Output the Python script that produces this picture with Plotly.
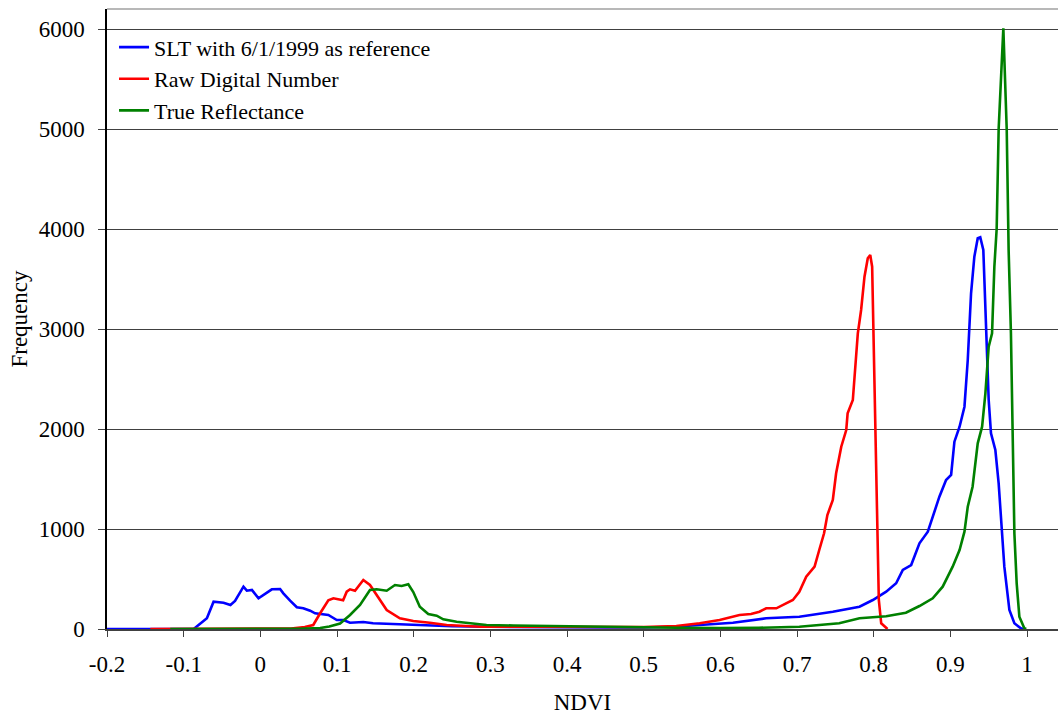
import plotly.graph_objects as go

# ---- data ----
slt_x = [-0.2, -0.15, -0.1, -0.087, -0.0697, -0.061, -0.048, -0.039, -0.033, -0.022, -0.0176, -0.011,
         -0.0024, 0.004, 0.015, 0.0258, 0.030, 0.0388, 0.0476, 0.056, 0.065, 0.0714, 0.080, 0.0887,
         0.0997, 0.1083, 0.117, 0.1343, 0.147, 0.1778, 0.2125, 0.25, 0.3, 0.35, 0.4, 0.45, 0.5, 0.54,
         0.573, 0.6164, 0.6598, 0.703, 0.7467, 0.7815, 0.7989, 0.8163, 0.8293, 0.838, 0.8489, 0.8597,
         0.8706, 0.877, 0.8857, 0.8944, 0.901, 0.9053, 0.912, 0.9184, 0.9227, 0.927, 0.9313, 0.9357,
         0.939, 0.943, 0.9465, 0.95, 0.953, 0.9587, 0.963, 0.966, 0.9704, 0.977, 0.9835, 0.992, 0.995]
slt_y = [0, 0, 0, 0, 107, 273, 263, 240, 280, 423, 383, 390,
         307, 340, 397, 400, 357, 283, 217, 208, 183, 157, 150, 140,
         90, 90, 63, 70, 57, 47, 40, 28, 22, 18, 15, 15, 15, 22,
         40, 63, 107, 123, 173, 223, 290, 373, 457, 590, 640, 857,
         973, 1123, 1323, 1490, 1540, 1873, 2023, 2223, 2690, 3357, 3723, 3907,
         3917, 3790, 2957, 2290, 1957, 1790, 1457, 1123, 623, 190, 57, 7, 0]

raw_x = [-0.1435, -0.1, 0.0, 0.04, 0.058, 0.069, 0.078, 0.0887, 0.0953, 0.108, 0.1127, 0.117, 0.1235,
         0.1343, 0.143, 0.1517, 0.1648, 0.182, 0.1995, 0.221, 0.243, 0.2864, 0.32, 0.36, 0.4, 0.45,
         0.5, 0.5426, 0.573, 0.599, 0.6164, 0.625, 0.640, 0.651, 0.6598, 0.673, 0.6946, 0.703, 0.712,
         0.7229, 0.729, 0.7353, 0.7396, 0.7467, 0.751, 0.7577, 0.7642, 0.766, 0.7728, 0.776, 0.7793,
         0.7836, 0.788, 0.7923, 0.7955, 0.798, 0.7997, 0.8024, 0.8045, 0.8067, 0.8098, 0.8163, 0.818]
raw_y = [0, 0, 2, 5, 20, 40, 157, 287, 307, 287, 373, 397, 383,
         490, 440, 340, 190, 107, 80, 63, 40, 23, 22, 20, 18, 18,
         20, 30, 57, 90, 123, 140, 150, 173, 207, 207, 290, 373, 523,
         623, 790, 957, 1140, 1290, 1557, 1823, 1990, 2157, 2290, 2623, 2957,
         3190, 3523, 3707, 3740, 3623, 2957, 1957, 957, 290, 57, 7, 0]

true_x = [-0.1175, 0.0, 0.05, 0.078, 0.09, 0.104, 0.117, 0.130, 0.143, 0.1517, 0.1648, 0.1756, 0.1843,
          0.193, 0.1995, 0.208, 0.219, 0.230, 0.2386, 0.256, 0.2777, 0.295, 0.33, 0.37, 0.4, 0.45,
          0.5, 0.55, 0.6, 0.65, 0.703, 0.755, 0.7815, 0.8163, 0.842, 0.8597, 0.877, 0.89, 0.903,
          0.912, 0.9184, 0.9227, 0.929, 0.9357, 0.9414, 0.9457, 0.95, 0.9544, 0.9574, 0.9604, 0.963,
          0.9691, 0.9735, 0.976, 0.979, 0.9813, 0.9835, 0.9865, 0.99, 0.9965, 0.999]
true_y = [0, 0, 3, 10, 25, 55, 140, 240, 390, 397, 383, 440, 430,
          447, 370, 223, 150, 133, 97, 72, 55, 40, 35, 30, 28, 22,
          15, 12, 10, 12, 23, 57, 107, 127, 163, 230, 307, 423, 623,
          790, 973, 1223, 1423, 1857, 2023, 2357, 2823, 2957, 3623, 4000, 5000,
          6007, 5000, 3790, 2957, 1957, 957, 457, 123, 7, 0]

series_names = ["SLT with 6/1/1999 as reference", "Raw Digital Number", "True Reflectance"]
series_colors = ["#0000FF", "#FF0000", "#008000"]

x_ticks = [-0.2, -0.1, 0, 0.1, 0.2, 0.3, 0.4, 0.5, 0.6, 0.7, 0.8, 0.9, 1]
x_tick_text = ["-0.2", "-0.1", "0", "0.1", "0.2", "0.3", "0.4", "0.5", "0.6", "0.7", "0.8", "0.9", "1"]
y_ticks = [0, 1000, 2000, 3000, 4000, 5000, 6000]

FONT = "Liberation Serif, Times New Roman, serif"
FS = 23

fig = go.Figure()
for xs, ys, name, col in zip([slt_x, raw_x, true_x], [slt_y, raw_y, true_y], series_names, series_colors):
    fig.add_trace(go.Scatter(x=xs, y=ys, mode="lines", name=name,
                             line=dict(color=col, width=2.6, shape="linear")))

fig.update_layout(
    width=1058, height=715,
    margin=dict(l=107, r=0, t=9, b=86),
    paper_bgcolor="white", plot_bgcolor="white",
    font=dict(family=FONT, size=FS, color="black"),
    showlegend=True,
    legend=dict(x=0.0074, y=0.972, xanchor="left", yanchor="top",
                bgcolor="rgba(0,0,0,0)", borderwidth=0,
                font=dict(family=FONT, size=22, color="black"),
                itemwidth=30, tracegroupgap=0),
)
fig.update_xaxes(
    range=[-0.2, 1.0404], tickmode="array", tickvals=x_ticks, ticktext=x_tick_text,
    showgrid=False, zeroline=False, showline=True, linecolor="#404040", linewidth=1.5,
    ticks="outside", ticklen=6, tickcolor="#404040", tickwidth=1,
    ticklabelstandoff=8,
    title=dict(text="NDVI", font=dict(family=FONT, size=FS), standoff=19),
)
fig.update_yaxes(
    range=[0, 6200], tickmode="array", tickvals=y_ticks,
    showgrid=True, gridcolor="#404040", gridwidth=1,
    zeroline=False, showline=True, linecolor="black", linewidth=1.5,
    ticks="outside", ticklen=7, tickcolor="#404040", tickwidth=1,
    ticklabelstandoff=9,
    title=dict(text="Frequency", font=dict(family=FONT, size=FS), standoff=5),
)
# light top border of plot area
fig.add_shape(type="line", xref="paper", yref="paper", x0=0, x1=1, y0=1, y1=1,
              line=dict(color="#a0a0a0", width=1.5))

fig.write_html("out.html")
